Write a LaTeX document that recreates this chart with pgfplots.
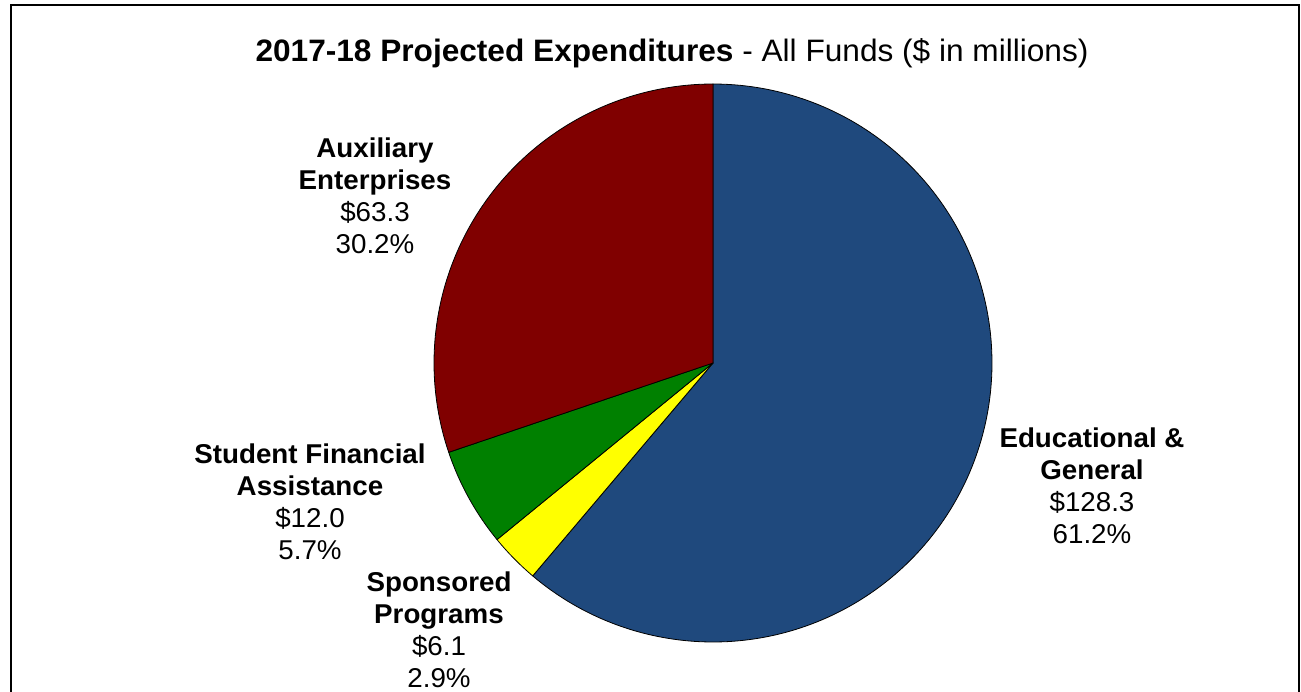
\documentclass[border=0pt]{standalone}
\usepackage{pgfplots}
\pgfplotsset{compat=1.18}
\usepackage{fontspec}
\setmainfont{Liberation Sans}
\newfontfamily\labfont[FakeStretch=1.02]{Liberation Sans}
\newfontfamily\titlefont[FakeStretch=1.02]{Liberation Sans}
\definecolor{cEG}{HTML}{1F497D}
\definecolor{cSP}{HTML}{FFFF00}
\definecolor{cSF}{HTML}{008000}
\definecolor{cAE}{HTML}{800000}
% data ($ in millions)
\def\vEG{128.3}\def\vSP{6.1}\def\vSF{12.0}\def\vAE{63.3}
\pgfmathsetmacro\vTot{\vEG+\vSP+\vSF+\vAE}
\pgfmathsetmacro\aA{90}
\pgfmathsetmacro\aB{\aA-360*(\vEG/\vTot)}
\pgfmathsetmacro\aC{\aB-360*(\vSP/\vTot)}
\pgfmathsetmacro\aD{\aC-360*(\vSF/\vTot)}
\pgfmathsetmacro\aE{\aD-360*(\vAE/\vTot)}
\def\cx{713}\def\cy{363}\def\rr{279}
\begin{document}
\begin{tikzpicture}
\begin{axis}[
  width=1301pt, height=692pt, scale only axis,
  xmin=0, xmax=1301, ymin=0, ymax=692, y dir=reverse,
  hide axis, clip=false,
  every axis plot/.append style={draw=black, line width=0.8pt, line join=round},
]
\addplot[fill=cEG, domain=\aB:\aA, samples=200, variable=\t] ({\cx+\rr*cos(\t)},{\cy-\rr*sin(\t)}) -- (axis cs:\cx,\cy) -- cycle;
\addplot[fill=cSP, domain=\aC:\aB, samples=20, variable=\t] ({\cx+\rr*cos(\t)},{\cy-\rr*sin(\t)}) -- (axis cs:\cx,\cy) -- cycle;
\addplot[fill=cSF, domain=\aD:\aC, samples=30, variable=\t] ({\cx+\rr*cos(\t)},{\cy-\rr*sin(\t)}) -- (axis cs:\cx,\cy) -- cycle;
\addplot[fill=cAE, domain=\aE:\aD, samples=120, variable=\t] ({\cx+\rr*cos(\t)},{\cy-\rr*sin(\t)}) -- (axis cs:\cx,\cy) -- cycle;

\draw[line width=2pt] (axis cs:11,692) -- (axis cs:11,5) -- (axis cs:1299,5) -- (axis cs:1299,692);

\node[anchor=base, inner sep=0pt, font=\titlefont\fontsize{31}{36}\selectfont] at (axis cs:672,62)
  {\textbf{2017-18 Projected Expenditures} - All Funds (\$ in millions)};

\tikzset{lab/.style={anchor=north, inner sep=0pt, align=center, font=\labfont\fontsize{27.2}{32}\selectfont}}
\node[lab] at (axis cs:375,138) {\textbf{Auxiliary}\\\textbf{Enterprises}\\\$63.3\\30.2\%};
\node[lab] at (axis cs:310,444) {\textbf{Student Financial}\\\textbf{Assistance}\\\$12.0\\5.7\%};
\node[lab] at (axis cs:439,572) {\textbf{Sponsored}\\\textbf{Programs}\\\$6.1\\2.9\%};
\node[lab] at (axis cs:1092,428) {\textbf{Educational \&}\\\textbf{General}\\\$128.3\\61.2\%};
\end{axis}
\pgfresetboundingbox
\path (current axis.south west) rectangle (current axis.north east);
\end{tikzpicture}
\end{document}
